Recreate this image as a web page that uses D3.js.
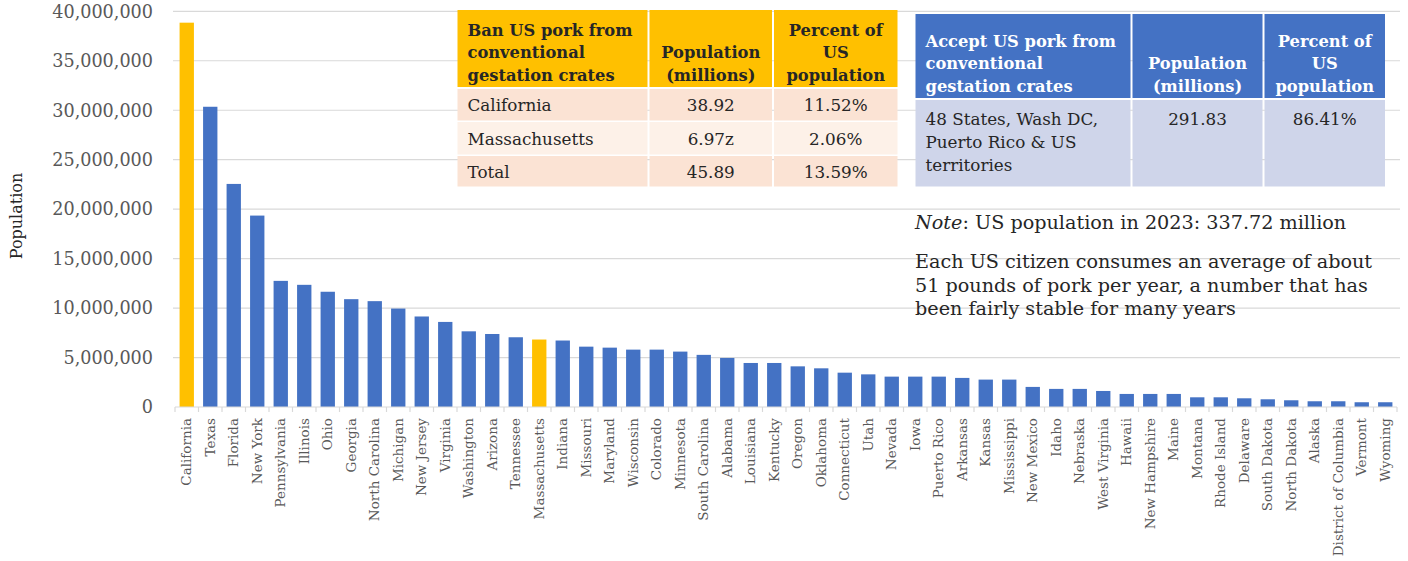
<!DOCTYPE html>
<html>
<head>
<meta charset="utf-8">
<script src="https://cdn.jsdelivr.net/npm/d3@7"></script>
<style>
  body { margin: 0; background: #fff; }
  text { font-family: "DejaVu Serif", Georgia, serif; }
</style>
</head>
<body>
<svg width="1408" height="561"></svg>
<script>
// data
const states = ["California","Texas","Florida","New York","Pennsylvania","Illinois","Ohio","Georgia",
  "North Carolina","Michigan","New Jersey","Virginia","Washington","Arizona","Tennessee","Massachusetts",
  "Indiana","Missouri","Maryland","Wisconsin","Colorado","Minnesota","South Carolina","Alabama",
  "Louisiana","Kentucky","Oregon","Oklahoma","Connecticut","Utah","Nevada","Iowa","Puerto Rico",
  "Arkansas","Kansas","Mississippi","New Mexico","Idaho","Nebraska","West Virginia","Hawaii",
  "New Hampshire","Maine","Montana","Rhode Island","Delaware","South Dakota","North Dakota","Alaska",
  "District of Columbia","Vermont","Wyoming"];
const population = [38850000,30350000,22550000,19350000,12750000,12350000,11650000,10900000,
  10700000,9950000,9150000,8600000,7650000,7380000,7050000,6820000,
  6720000,6100000,6000000,5800000,5800000,5600000,5270000,4960000,
  4450000,4450000,4110000,3910000,3470000,3300000,3070000,3070000,3070000,
  2940000,2770000,2770000,2030000,1830000,1830000,1620000,1320000,
  1320000,1320000,980000,980000,880000,780000,680000,580000,
  580000,480000,480000];
const banStates = ["California","Massachusetts"];
const yTicks = [0,5000000,10000000,15000000,20000000,25000000,30000000,35000000,40000000];

const banHeader = [["Ban US pork from","conventional","gestation crates"],["Population","(millions)"],["Percent of","US","population"]];
const banRows = [["California","38.92","11.52%"],["Massachusetts","6.97z","2.06%"],["Total","45.89","13.59%"]];
const acceptHeader = [["Accept US pork from","conventional","gestation crates"],["Population","(millions)"],["Percent of","US","population"]];
const acceptRows = [[["48 States, Wash DC,","Puerto Rico & US","territories"],["291.83"],["86.41%"]]];

const noteLines = ["Each US citizen consumes an average of about","51 pounds of pork per year, a number that has","been fairly stable for many years"];

const blue = "#4472C4", gold = "#FFC000", grid = "#D9D9D9", axisText = "#595959";

const svg = d3.select("svg");

const plotLeft = 175, plotRight = 1397, plotTop = 11.3, plotBottom = 407;

const x = d3.scaleBand().domain(states).range([plotLeft, plotRight]).paddingInner(0.39).paddingOuter(0.195);
const y = d3.scaleLinear().domain([0, 40000000]).range([plotBottom, plotTop]);

// gridlines
svg.append("g").selectAll("line").data(yTicks.slice(1)).join("line")
  .attr("x1", plotLeft - 2).attr("x2", 1400)
  .attr("y1", d => y(d)).attr("y2", d => y(d))
  .attr("stroke", grid).attr("stroke-width", 1.2);

// y labels
svg.append("g").selectAll("text").data(yTicks).join("text")
  .attr("x", 153).attr("y", d => y(d)).attr("dy", "0.36em")
  .attr("text-anchor", "end")
  .attr("font-size", "17.6px").attr("fill", axisText)
  .text(d => d3.format(",")(d));

svg.append("text")
  .attr("transform", "translate(22,216) rotate(-90)")
  .attr("text-anchor", "middle")
  .attr("font-size", "16px").attr("fill", "#262626")
  .text("Population");

// bars
svg.append("g").selectAll("rect").data(states).join("rect")
  .attr("x", d => x(d)).attr("width", x.bandwidth())
  .attr("y", (d, i) => y(population[i]))
  .attr("height", (d, i) => plotBottom - y(population[i]))
  .attr("fill", d => banStates.includes(d) ? gold : blue);

// x axis line + ticks at band boundaries
svg.append("line").attr("x1", plotLeft).attr("x2", plotRight).attr("y1", plotBottom).attr("y2", plotBottom)
  .attr("stroke", grid).attr("stroke-width", 1.2);
svg.append("g").selectAll("line").data(d3.range(states.length + 1)).join("line")
  .attr("x1", i => plotLeft + i * x.step()).attr("x2", i => plotLeft + i * x.step())
  .attr("y1", plotBottom).attr("y2", plotBottom + 5)
  .attr("stroke", grid).attr("stroke-width", 1.2);

// category labels
svg.append("g").selectAll("text").data(states).join("text")
  .attr("transform", d => `translate(${x(d) + x.bandwidth() / 2},418) rotate(-90)`)
  .attr("dy", "0.35em")
  .attr("text-anchor", "end")
  .attr("font-size", "13.5px").attr("fill", axisText)
  .text(d => d);

// tables
function drawTable(g, cols, headH, rowHs, head, rows, headFill, rowFills, headColor, bodyTopAlign) {
  const xs = [0];
  cols.forEach(c => xs.push(xs[xs.length - 1] + c));
  const lh = 22.5;
  // header cells
  head.forEach((lines, j) => {
    g.append("rect").attr("x", xs[j] + 1).attr("y", 0).attr("width", cols[j] - 2).attr("height", headH - 1)
      .attr("fill", headFill);
    lines.forEach((t, k) => {
      g.append("text")
        .attr("x", j == 0 ? xs[j] + 11 : xs[j] + cols[j] / 2)
        .attr("y", headH - 13 - (lines.length - 1 - k) * lh)
        .attr("dy", "0.35em")
        .attr("text-anchor", j == 0 ? "start" : "middle")
        .attr("font-size", "16.3px").attr("font-weight", "bold").attr("fill", headColor)
        .text(t);
    });
  });
  let yy = headH + 1;
  rows.forEach((r, i) => {
    r.forEach((cell, j) => {
      g.append("rect").attr("x", xs[j] + 1).attr("y", yy).attr("width", cols[j] - 2).attr("height", rowHs[i] - 1.5)
        .attr("fill", rowFills[i]);
      const lines = Array.isArray(cell) ? cell : [cell];
      lines.forEach((t, k) => {
        g.append("text")
          .attr("x", j == 0 ? xs[j] + 11 : xs[j] + cols[j] / 2)
          .attr("y", bodyTopAlign ? yy + 19 + k * 23.3 : yy + rowHs[i] / 2)
          .attr("dy", "0.35em")
          .attr("text-anchor", j == 0 ? "start" : "middle")
          .attr("font-size", "16.8px").attr("fill", "#262626")
          .text(t);
      });
    });
    yy += rowHs[i];
  });
}

const banG = svg.append("g").attr("transform", "translate(456.5,10)");
drawTable(banG, [192, 124.5, 125.5], 78, [33, 34, 32], banHeader, banRows, gold,
  ["#FBE3D4", "#FDF1E8", "#FBE3D4"], "#262626", false);

const accG = svg.append("g").attr("transform", "translate(914.5,14)");
drawTable(accG, [217, 132, 122.5], 85, [88], acceptHeader, acceptRows, blue,
  ["#CFD5EA"], "#fff", true);

// notes
const note = svg.append("text").attr("x", 915).attr("y", 222).attr("dy", "0.35em")
  .attr("font-size", "19.2px").attr("fill", "#262626");
note.append("tspan").attr("font-style", "italic").text("Note");
note.append("tspan").text(": US population in 2023: 337.72 million");

svg.append("g").selectAll("text").data(noteLines).join("text")
  .attr("x", 915).attr("y", (d, i) => 261.5 + i * 23.4).attr("dy", "0.35em")
  .attr("font-size", "19.2px").attr("fill", "#262626")
  .text(d => d);
</script>
</body>
</html>
